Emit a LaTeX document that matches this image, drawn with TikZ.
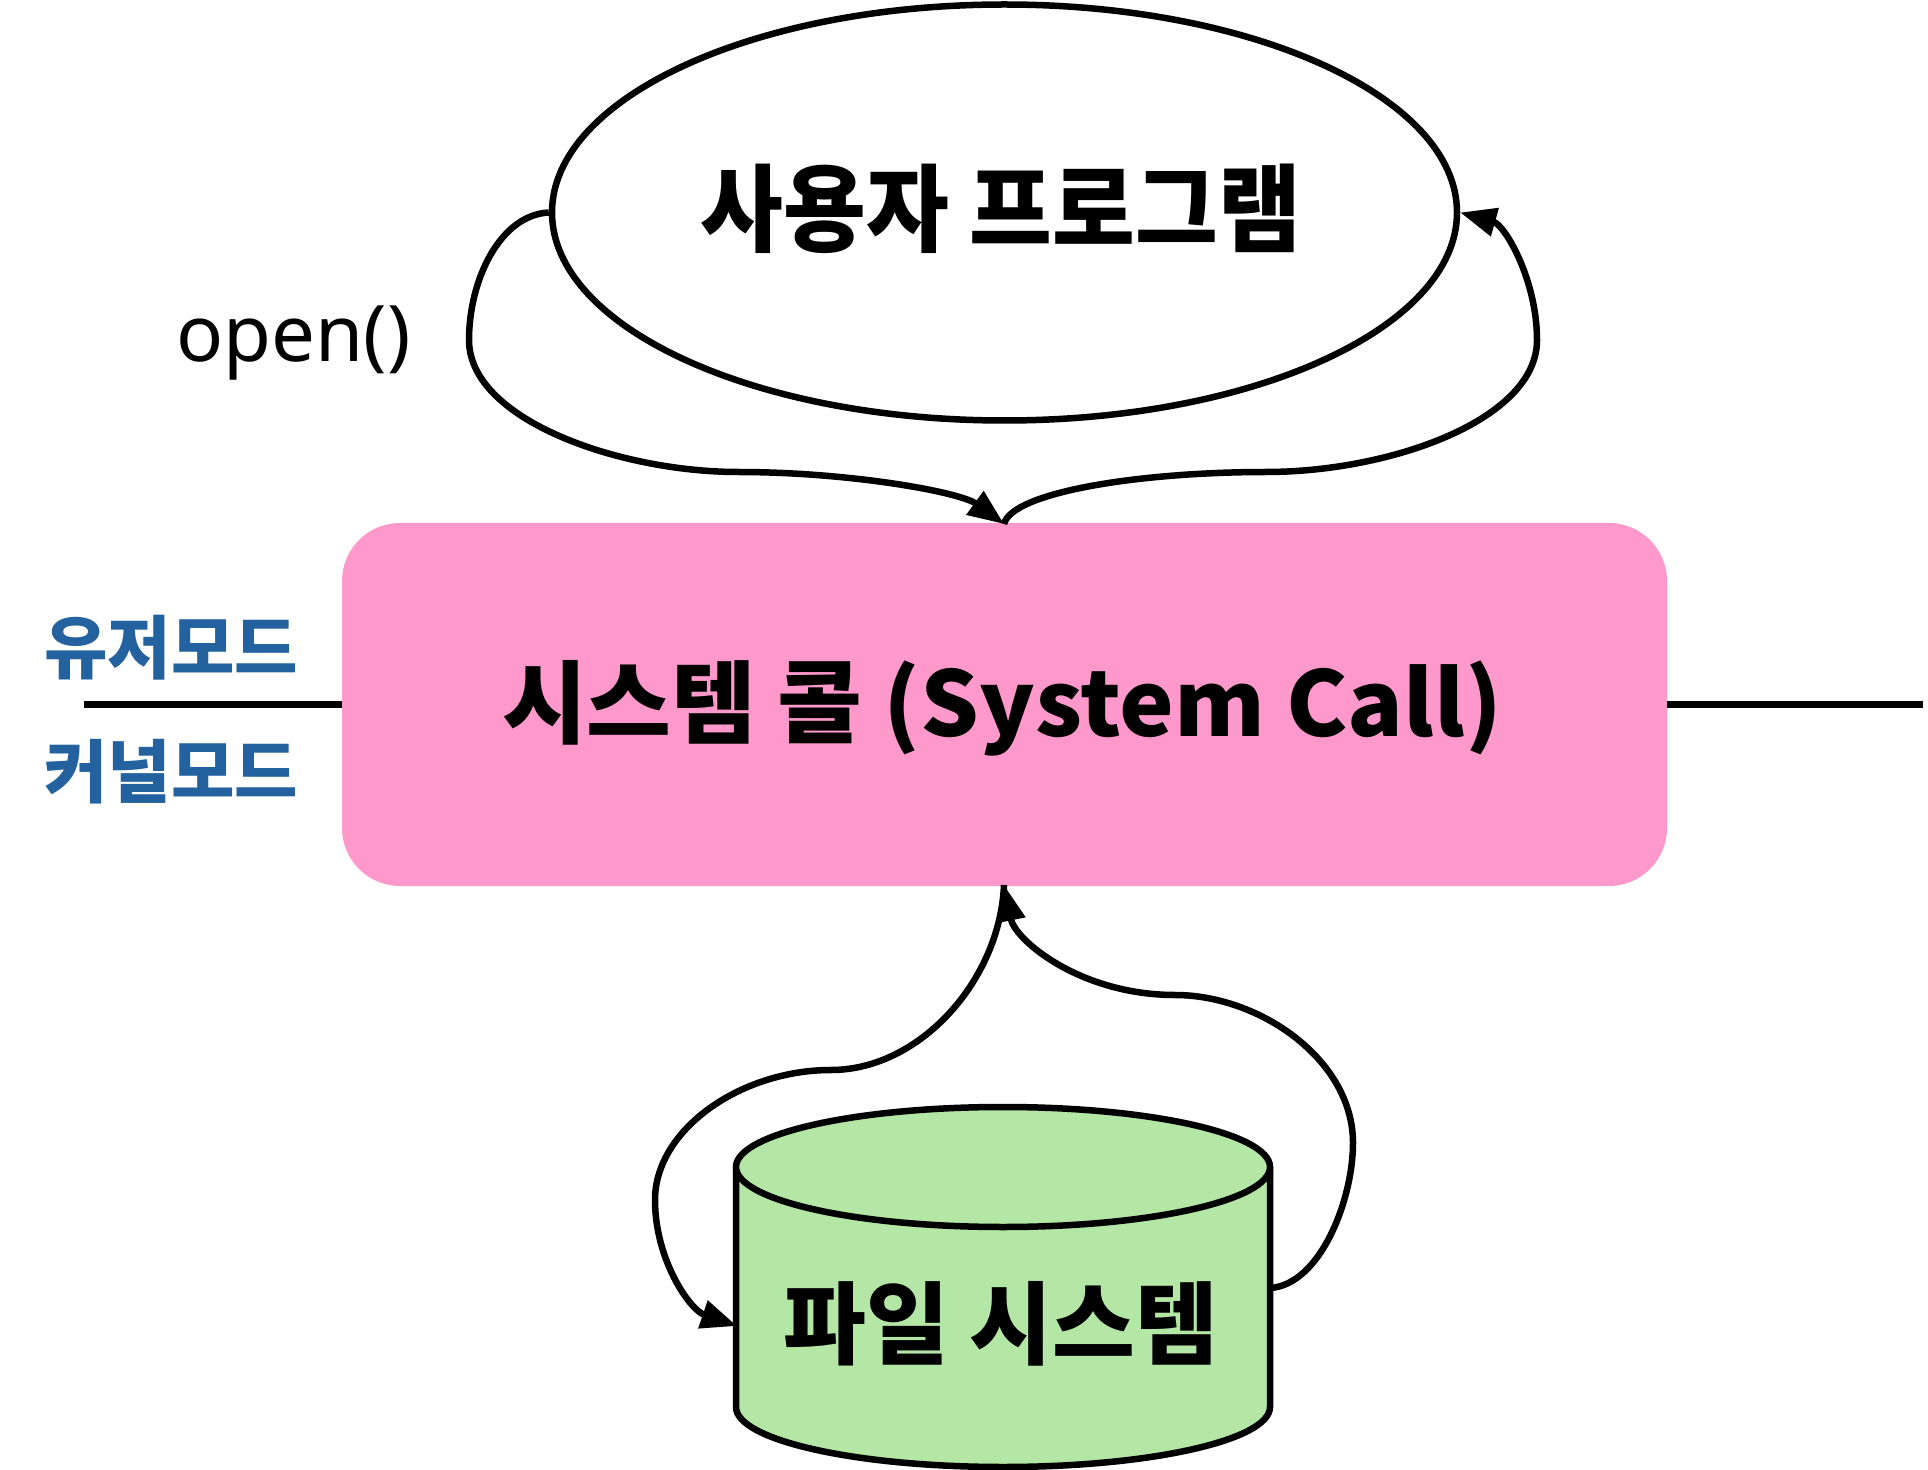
\documentclass[tikz,border=0pt]{standalone}
\usepackage{fontspec}
\usetikzlibrary{shapes.geometric,arrows.meta}
\newfontfamily\kr{Noto Sans CJK KR}
\newfontfamily\latinf{Noto Sans}
\definecolor{pinkc}{HTML}{FF99CC}
\definecolor{greenc}{HTML}{B4E6A5}
\definecolor{modeblue}{HTML}{23629E}
\begin{document}
\begin{tikzpicture}[x=0.5pt,y=-0.5pt,
  conn/.style={line width=3.25pt,-{Triangle[length=18pt,width=14pt]}},
  plainline/.style={line width=3.25pt},
  lbl/.style={text=modeblue,font=\kr\bfseries\fontsize{34.5}{38}\selectfont,inner sep=0},
  big/.style={font=\kr\bfseries\fontsize{45}{52}\selectfont,inner sep=0}]
\path[use as bounding box] (0,0) rectangle (1928,1470);
% user program ellipse
\node[ellipse,draw,line width=3.25pt,fill=white,minimum width=452.5pt,minimum height=208pt,inner sep=0] (prog) at (1004.5,212.5) {};
\node[big] (progtxt) at (1001,209) {\scalebox{1}[1.06]{사용자 프로그램}};
% system call box
\node[rectangle,rounded corners=29pt,fill=pinkc,minimum width=662.5pt,minimum height=181.5pt,inner sep=0] (sys) at (1004.5,704.5) {};
\node[big] (systxt) at (1002,708) {\scalebox{1.025}[1]{시스템 콜 (System Call)}};
% mode divider
\coordinate (lineL) at (84,704.5);
\coordinate (lineR) at (1923,704.5);
\draw[plainline] (lineL) -- (sys.west);
\draw[plainline] (sys.east) -- (lineR);
\node[lbl] (umode) at (171,648) {유저모드};
\node[lbl] (kmode) at (171,772) {커널모드};
% open()
\node[font=\latinf\fontsize{39}{44}\selectfont,inner sep=0,anchor=base west] (opentxt) at (176,362) {open()};
% file system cylinder
\path[fill=greenc,draw,line width=3.25pt] (736,1167) -- (736,1407) arc[start angle=180,end angle=0,x radius=267,y radius=60] -- (1270,1167);
\draw[fill=greenc,line width=3.25pt] (1003,1167) ellipse[x radius=267,y radius=60];
\node[big] (fstxt) at (1001,1324) {파일 시스템};
\coordinate (fsL) at (737,1326);
\coordinate (fsR) at (1270,1288);
\coordinate (sysTop) at (1004,524);
\coordinate (sysBot) at (1004,885);
% connectors
\draw[conn] (prog.west) .. controls (500,215) and (469,280) .. (469,340)
   .. controls (469,420) and (620,472) .. (738,472)
   .. controls (850,472) and (960,492) .. (sysTop);
\draw[conn] (sysTop) .. controls (1012,492) and (1140,472) .. (1266,472)
   .. controls (1390,472) and (1537,420) .. (1537,340)
   .. controls (1537,280) and (1505,225) .. (prog.east);
\draw[conn] (sysBot) .. controls (1000,980) and (920,1070) .. (831,1070)
   .. controls (740,1070) and (655,1130) .. (655,1200)
   .. controls (655,1260) and (690,1310) .. (fsL);
\draw[conn] (fsR) .. controls (1320,1285) and (1353,1200) .. (1353,1143)
   .. controls (1353,1060) and (1260,995) .. (1175,995)
   .. controls (1080,995) and (1015,940) .. (sysBot);
\end{tikzpicture}
\end{document}
